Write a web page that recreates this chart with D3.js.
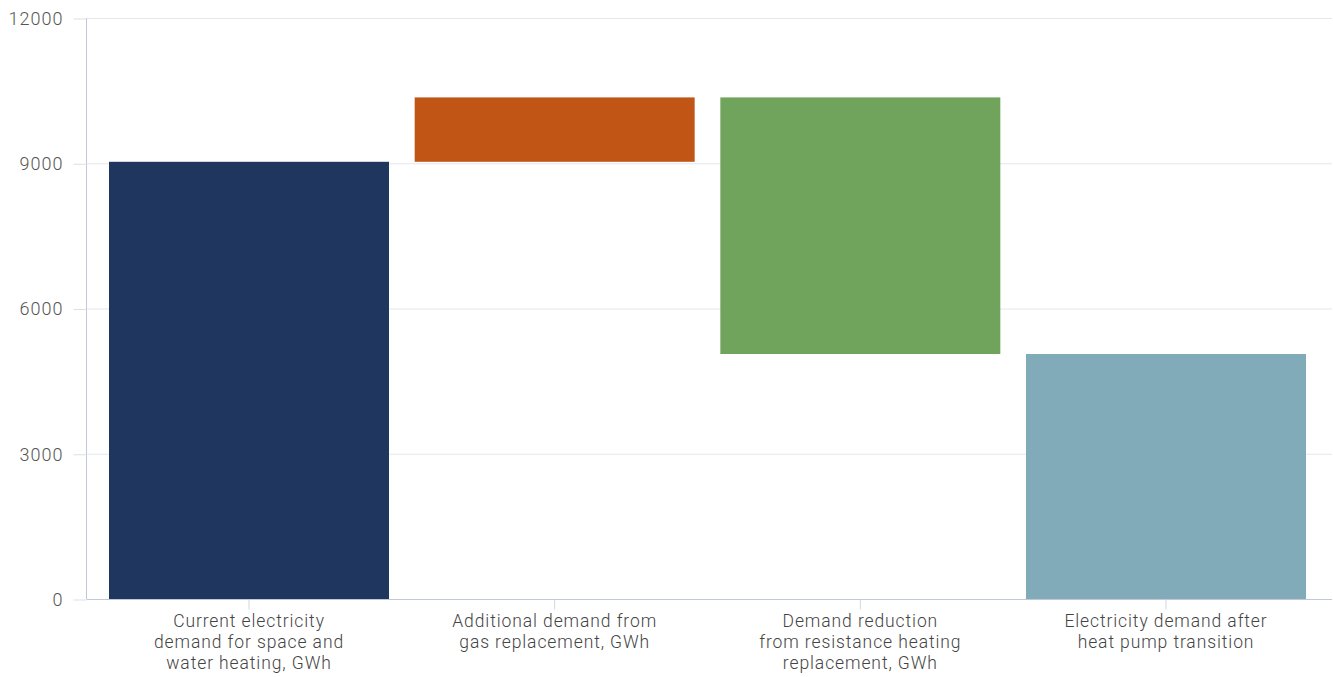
<!DOCTYPE html>
<html>
<head>
<meta charset="utf-8">
<script src="https://cdn.jsdelivr.net/npm/d3@7"></script>
<style>
  html, body { margin: 0; padding: 0; background: #fff; }
  svg { display: block; }
  text { font-family: Roboto, "Open Sans", sans-serif; font-weight: 300; }
</style>
</head>
<body>
<svg id="chart" width="1333" height="677"></svg>
<script>
const categories = [
  ["Current electricity", "demand for space and", "water heating, GWh"],
  ["Additional demand from", "gas replacement, GWh"],
  ["Demand reduction", "from resistance heating", "replacement, GWh"],
  ["Electricity demand after", "heat pump transition"]
];
const changes = [9030, 1330, -5300, null]; // last is total
const colors = ["#1f365e", "#c05516", "#70a45c", "#81abb9"];
const yTicks = [0, 3000, 6000, 9000, 12000];

// build waterfall segments
let run = 0;
const segs = changes.map((c, i) => {
  if (c === null) return { i, lo: 0, hi: run };
  const a = run, b = run + c;
  run = b;
  return { i, lo: Math.min(a, b), hi: Math.max(a, b) };
});

const svg = d3.select("#chart");
const mLeft = 87, mRight = 1332, mTop = 18, mBottom = 599;

const x = d3.scaleBand().domain(d3.range(categories.length)).range([mLeft, 1328])
  .paddingInner(0.084).paddingOuter(0.072);
const y = d3.scaleLinear().domain([0, 12000]).range([mBottom, mTop]);

// gridlines
svg.append("g").selectAll("line").data(yTicks.filter(t => t > 0)).join("line")
  .attr("x1", mLeft).attr("x2", mRight)
  .attr("y1", d => y(d) + 0.5).attr("y2", d => y(d) + 0.5)
  .attr("stroke", "#e6e6ee").attr("stroke-width", 1);

// y axis
const yAxis = d3.axisLeft(y).tickValues(yTicks).tickSize(13).tickPadding(10).tickFormat(d3.format("d"));
const gy = svg.append("g").attr("transform", `translate(${mLeft - 0.5},0.5)`).call(yAxis);
gy.select(".domain").attr("stroke", "#c0c8d8").attr("d", `M0,${mTop - 0.5}V${mBottom}`);
gy.selectAll(".tick line").attr("stroke", "#dcdfe8");
gy.selectAll(".tick text").attr("fill", "#555").style("font-size", "18px")
  .style("letter-spacing", "1px")
  .style("font-family", "Roboto, sans-serif").style("font-weight", 300);

// bars
svg.append("g").selectAll("rect").data(segs).join("rect")
  .attr("x", d => x(d.i))
  .attr("width", x.bandwidth())
  .attr("y", d => y(d.hi))
  .attr("height", d => y(d.lo) - y(d.hi))
  .attr("fill", d => colors[d.i]);

// x axis
const xAxis = d3.axisBottom(x).tickSize(10).tickFormat("");
const gx = svg.append("g").attr("transform", `translate(0,${mBottom + 0.5})`).call(xAxis);
gx.select(".domain").attr("stroke", "#c0c8d8").attr("d", `M${mLeft},0H${mRight}`);
gx.selectAll(".tick line").attr("stroke", "#d0d6e2");

// category labels
const lab = svg.append("g").selectAll("text").data(categories).join("text")
  .attr("text-anchor", "middle")
  .attr("fill", "#444")
  .style("font-size", "17.5px")
  .style("letter-spacing", "0.9px")
  .attr("transform", (d, i) => `translate(${x(i) + x.bandwidth() / 2},627)`);
lab.selectAll("tspan").data(d => d).join("tspan")
  .attr("x", 0).attr("dy", (d, j) => j === 0 ? 0 : 21).text(d => d);
</script>
</body>
</html>
